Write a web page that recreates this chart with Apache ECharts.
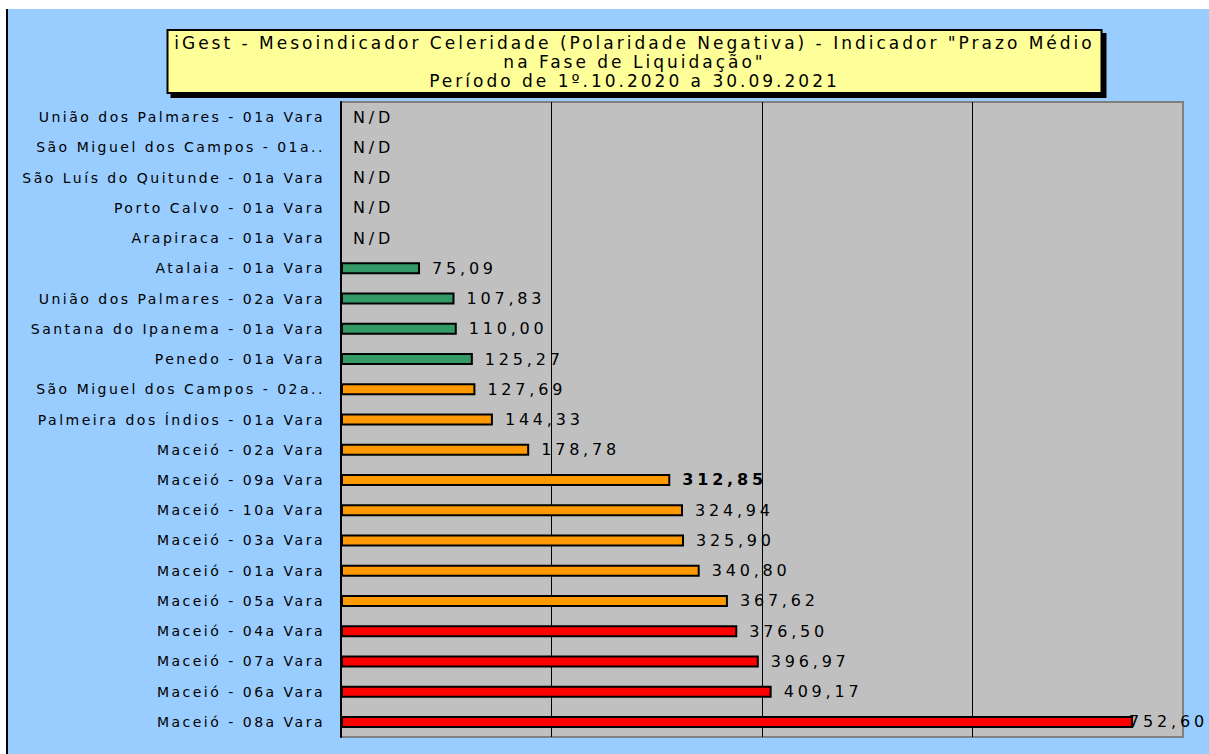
<!DOCTYPE html>
<html>
<head>
<meta charset="utf-8">
<script src="https://cdn.jsdelivr.net/npm/echarts@6/dist/echarts.min.js"></script>
<style>
  html, body { margin: 0; padding: 0; background: #fff; }
  #chart { position: absolute; left: 6px; top: 9px; width: 1201px; height: 745px; border-left: 2px solid #000; }
  /* texto "esticado" como no original */
  #chart text[style*="14px"] { letter-spacing: 2.5px; }
  #chart text[style*="16px"] { letter-spacing: 3.8px; }
  #chart text[style*="17px"] { letter-spacing: 3px; }
</style>
</head>
<body>
<div id="chart"></div>
<script>
// varas, de cima para baixo
const varas = [
  'União dos Palmares - 01a Vara',
  'São Miguel dos Campos - 01a..',
  'São Luís do Quitunde - 01a Vara',
  'Porto Calvo - 01a Vara',
  'Arapiraca - 01a Vara',
  'Atalaia - 01a Vara',
  'União dos Palmares - 02a Vara',
  'Santana do Ipanema - 01a Vara',
  'Penedo - 01a Vara',
  'São Miguel dos Campos - 02a..',
  'Palmeira dos Índios - 01a Vara',
  'Maceió - 02a Vara',
  'Maceió - 09a Vara',
  'Maceió - 10a Vara',
  'Maceió - 03a Vara',
  'Maceió - 01a Vara',
  'Maceió - 05a Vara',
  'Maceió - 04a Vara',
  'Maceió - 07a Vara',
  'Maceió - 06a Vara',
  'Maceió - 08a Vara'
]
// prazo médio (dias), null = N/D
const prazoMedio = [
  null, null, null, null, null,
  75.09, 107.83, 110.00, 125.27,
  127.69, 144.33, 178.78, 312.85, 324.94, 325.90, 340.80, 367.62,
  376.50, 396.97, 409.17, 752.60
]
// faixa de cada vara
const faixas = [
  'nd', 'nd', 'nd', 'nd', 'nd',
  'bom', 'bom', 'bom', 'bom',
  'medio', 'medio', 'medio', 'medio', 'medio', 'medio', 'medio', 'medio',
  'ruim', 'ruim', 'ruim', 'ruim'
]
const destaque = 'Maceió - 09a Vara'
const eixoTicks = [0, 200, 400, 600, 800]

const corFaixa = { bom: '#339966', medio: '#FF9900', ruim: '#FF0000' }
const fonte = 'DejaVu Sans'
const eixoMax = eixoTicks[eixoTicks.length - 1]

const fmt = v => v.toFixed(2).replace('.', ',')

const chart = echarts.init(document.getElementById('chart'), null, { renderer: 'svg' })

const seriesData = prazoMedio.map((v, i) => {
  const nd = v == null
  return {
    value: nd ? 0 : v,
    itemStyle: nd
      ? { color: 'transparent', borderWidth: 0 }
      : { color: corFaixa[faixas[i]] },
    label: {
      fontWeight: varas[i] === destaque ? 'bold' : 'normal',
      // sem espaço à direita: rótulo encosta na barra
      distance: !nd && v > eixoMax - 70 ? -4 : 12
    }
  }
})

chart.setOption({
  animation: false,
  backgroundColor: '#99CCFF',
  title: {
    text: 'iGest - Mesoindicador Celeridade (Polaridade Negativa) - Indicador "Prazo Médio\nna Fase de Liquidação"\nPeríodo de 1º.10.2020 a 30.09.2021',
    left: 622.5,
    top: 21,
    textAlign: 'center',
    padding: [3, 4],
    backgroundColor: '#FFFF99',
    borderColor: '#000',
    borderWidth: 2,
    shadowColor: '#000',
    shadowBlur: 0,
    shadowOffsetX: 4,
    shadowOffsetY: 4,
    textStyle: {
      fontFamily: fonte,
      fontSize: 17,
      fontWeight: 'normal',
      color: '#000',
      lineHeight: 19,
      width: 927
    }
  },
  grid: {
    left: 333,
    top: 93,
    width: 842,
    height: 635,
    show: true,
    backgroundColor: '#C0C0C0',
    borderColor: '#808080',
    borderWidth: 2
  },
  xAxis: {
    type: 'value',
    min: eixoTicks[0],
    max: eixoMax,
    interval: eixoTicks[1] - eixoTicks[0],
    axisLabel: { show: false },
    axisLine: { show: false },
    axisTick: { show: false },
    splitLine: {
      show: true,
      showMinLine: false,
      showMaxLine: false,
      lineStyle: { color: '#000', width: 1 }
    }
  },
  yAxis: {
    type: 'category',
    data: varas,
    inverse: true,
    axisLine: { lineStyle: { color: '#000', width: 2 } },
    axisTick: { length: 7, lineStyle: { color: '#000', width: 2 } },
    axisLabel: { color: '#000', fontSize: 14, fontFamily: fonte, margin: 16 },
    splitLine: { show: false }
  },
  series: [{
    type: 'bar',
    barWidth: 12,
    data: seriesData,
    itemStyle: { borderColor: '#000', borderWidth: 2 },
    label: {
      show: true,
      position: 'right',
      color: '#000',
      fontSize: 16,
      fontFamily: fonte,
      formatter: p => prazoMedio[p.dataIndex] == null ? 'N/D' : fmt(prazoMedio[p.dataIndex])
    }
  }]
})
</script>
</body>
</html>
